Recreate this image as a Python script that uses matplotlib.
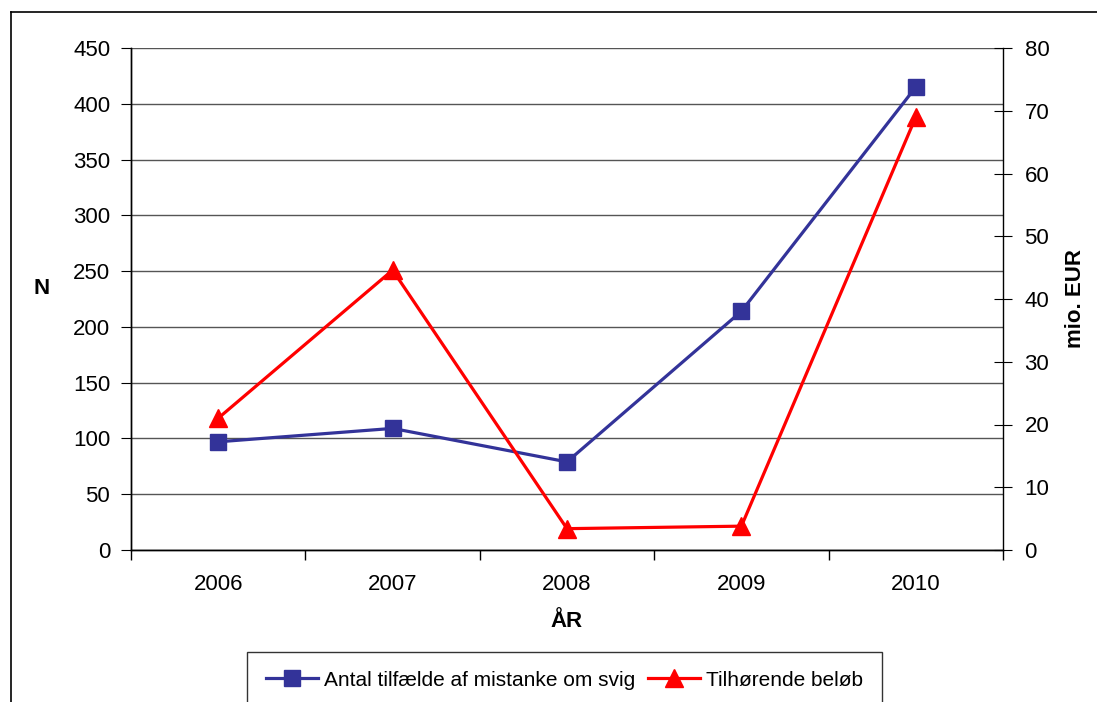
import matplotlib.pyplot as plt
import numpy as np
from matplotlib.lines import Line2D

plt.rcParams['font.family'] = ['Liberation Sans', 'DejaVu Sans']

# data
aar = ['2006', '2007', '2008', '2009', '2010']
antal = [97, 109, 79, 214, 415]          # N (left axis)
beloeb = [21.0, 44.6, 3.4, 3.8, 69.0]     # mio. EUR (right axis)

blaa = '#333399'
roed = '#FF0000'

fig = plt.figure(figsize=(10.97, 7.02), dpi=100)
W, H = 1097, 702
ax = fig.add_axes([131 / W, 1 - 550 / H, (1003 - 131) / W, (550 - 48) / H])
ax2 = ax.twinx()

x = np.arange(len(aar))

# left axis: N
ax.plot(x, antal, color=blaa, lw=2.3, marker='s', ms=12, mec=blaa, mfc=blaa,
        zorder=3, label='Antal tilfælde af mistanke om svig')
ax.set_ylim(0, 450)
ax.set_yticks(np.arange(0, 451, 50))
ax.yaxis.grid(True, color='#555555', lw=1)
ax.set_axisbelow(True)
ax.set_xlim(-0.5, len(aar) - 0.5)
ax.set_xticks(x)
ax.set_xticklabels(aar)
ax.set_xticks(np.arange(-0.5, len(aar), 1), minor=True)
ax.tick_params(axis='x', which='major', length=0, pad=17, labelsize=16)
ax.tick_params(axis='x', which='minor', length=7, direction='out', width=1)
ax.tick_params(axis='y', length=7, direction='out', labelsize=16, pad=8)
ax.set_xlabel('ÅR', fontsize=16, fontweight='bold', labelpad=12)
ax.set_ylabel('N', fontsize=16, fontweight='bold', rotation=0, va='center', ha='center')
ax.yaxis.set_label_coords((42 - 131) / 872, 0.52)

# right axis: mio. EUR
ax2.plot(x, beloeb, color=roed, lw=2.3, marker='^', ms=13, mec=roed, mfc=roed,
         zorder=3, label='Tilhørende beløb')
ax2.set_ylim(0, 80)
ax2.set_yticks(np.arange(0, 81, 10))
ax2.tick_params(axis='y', length=13, direction='inout', labelsize=16, pad=9)
ax2.set_ylabel('mio. EUR', fontsize=16, fontweight='bold', labelpad=11)

for a in (ax, ax2):
    a.spines['top'].set_visible(False)
    for s in ('left', 'bottom', 'right'):
        a.spines[s].set_color('black')
        a.spines[s].set_linewidth(1)
ax.spines['right'].set_visible(False)
ax2.set_zorder(ax.get_zorder() + 1)
ax2.patch.set_visible(False)

# outer frame (left and top edges)
fig.add_artist(Line2D([11 / W, 11 / W], [0, 1 - 12 / H], color='black', lw=1.2))
fig.add_artist(Line2D([11 / W, 1], [1 - 12 / H, 1 - 12 / H], color='black', lw=1.2))

h1, l1 = ax.get_legend_handles_labels()
h2, l2 = ax2.get_legend_handles_labels()
leg = fig.legend(h1 + h2, l1 + l2, loc='upper left', bbox_to_anchor=(247 / W, 1 - 652 / H),
                 ncol=2, fontsize=15, frameon=True, fancybox=False, edgecolor='black',
                 borderpad=0.9, handlelength=2.5, handletextpad=0.3, columnspacing=0.6,
                 borderaxespad=0)
leg.get_frame().set_linewidth(1)

fig.savefig('out.png', dpi=100)
